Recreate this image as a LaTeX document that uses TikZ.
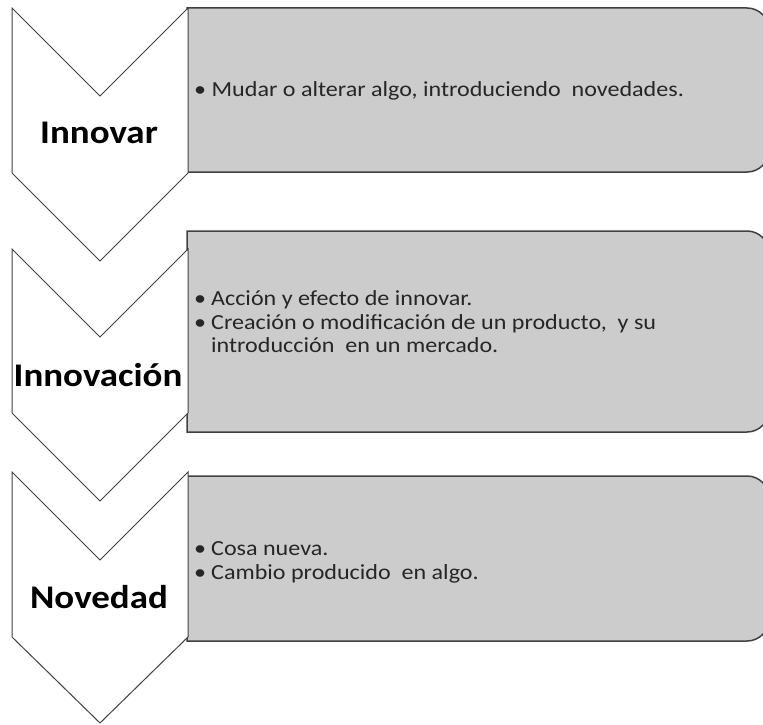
\documentclass[tikz,border=0pt]{standalone}
\usepackage{fontspec}
\setmainfont{Carlito}
\newfontfamily\widefont[FakeStretch=1.12]{Carlito}
\definecolor{edgegray}{HTML}{404040}
\definecolor{boxgray}{HTML}{CCCCCC}
\tikzset{
  chevron/.style={draw=edgegray, fill=white, line width=1pt, line join=miter},
  defbox/.style={draw=edgegray, fill=boxgray, line width=1.5pt},
  termlabel/.style={font=\widefont\fontsize{33}{38}\selectfont\bfseries, text=black},
  deftext/.style={anchor=west, align=left, inner sep=0pt, text=black!85,
    font=\widefont\fontsize{21.5}{23}\selectfont}
}
\begin{document}
\begin{tikzpicture}[x=1pt,y=-1pt]
            \useasboundingbox (0,0) rectangle (763,725);
            \clip (0,0) rectangle (763,725);

            % Drawing box Innovar
            \draw [defbox] (187,8) -- (747,8) arc (270:360:22) -- (769,150) arc (0:90:22) -- (187,172) -- cycle;%

            % Drawing box Innovacion
            \draw [defbox] (187,231) -- (747,231) arc (270:360:22) -- (769,410) arc (0:90:22) -- (187,432) -- cycle;%

            % Drawing box Novedad
            \draw [defbox] (187,476) -- (747,476) arc (270:360:22) -- (769,619) arc (0:90:22) -- (187,641) -- cycle;%

            % Drawing chevron Innovar
            \draw [chevron] (12,8) -- (100,96) -- (188,8) -- (188,173) -- (100,261) -- (12,173) -- cycle;%

            % Drawing chevron Innovacion
            \draw [chevron] (12,249) -- (100,337) -- (188,249) -- (188,413) -- (100,501) -- (12,413) -- cycle;%

            % Drawing chevron Novedad
            \draw [chevron] (12,472) -- (100,560) -- (188,472) -- (188,637) -- (100,723) -- (12,637) -- cycle;%

            % Marking terms
            \node [termlabel] (innovar) at (99,133) {Innovar};%
            \node [termlabel] (innovacion) at (98,375) {Innovación};%
            \node [termlabel] (novedad) at (99,597) {Novedad};%

            % Marking definitions
            \node [deftext] (def innovar) at (194,91) {• Mudar o alterar algo, introduciendo\ \ novedades.};%
            \node [deftext] (def innovacion) at (194,324) {%
              \begin{tabular}{@{}l@{\hspace{5pt}}l@{}}
              • & Acción y efecto de innovar.\\[1pt]
              • & Creación o modificación de un producto,\ \ y su\\
                & introducción\ \ en un mercado.
              \end{tabular}};%
            \node [deftext] (def novedad) at (194,563) {%
              \begin{tabular}{@{}l@{\hspace{5pt}}l@{}}
              • & Cosa nueva.\\[1pt]
              • & Cambio producido\ \ en algo.
              \end{tabular}};%
        \end{tikzpicture}
\end{document}
